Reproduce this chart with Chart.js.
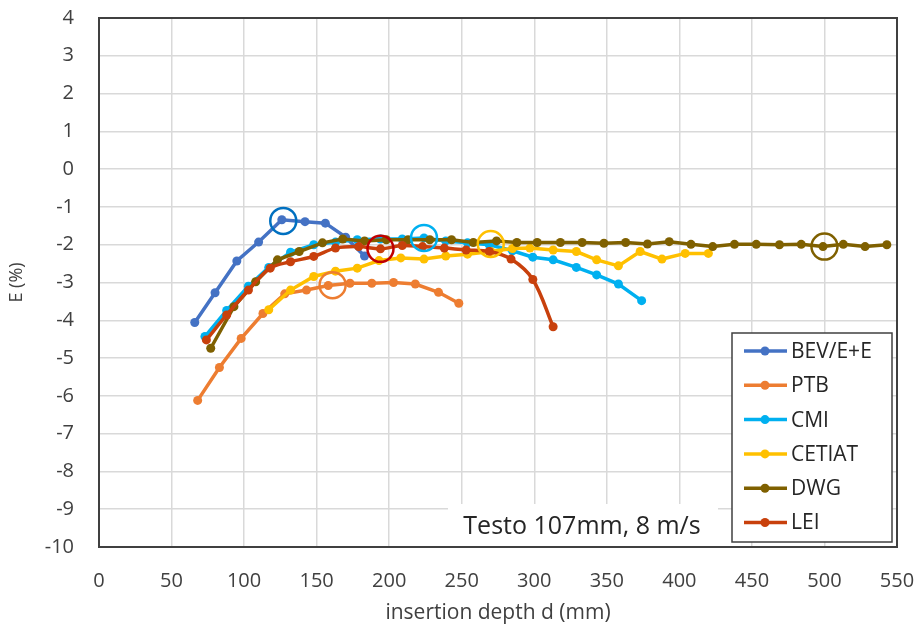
<!DOCTYPE html>
<html>
<head>
<meta charset="utf-8">
<script src="https://cdn.jsdelivr.net/npm/chart.js@4.4.1/dist/chart.umd.min.js"></script>
<style>
  html, body { margin: 0; padding: 0; background: #fff; }
  #wrap { width: 919px; height: 632px; }
</style>
</head>
<body>
<div id="wrap"><canvas id="chart" width="919" height="632"></canvas></div>
<script>
// values
const seriesNames = ['BEV/E+E', 'PTB', 'CMI', 'CETIAT', 'DWG', 'LEI'];
const seriesColors = ['#4472C4', '#ED7D31', '#00B0F0', '#FFC000', '#7F6000', '#C8400C'];

const bevD = [66, 80, 95, 110, 126, 142, 156, 170, 183];
const bevE = [-4.06, -3.27, -2.43, -1.93, -1.34, -1.39, -1.43, -1.8, -2.3];

const ptbD = [68, 83, 98, 113, 128, 143, 158, 173, 188, 203, 218, 234, 248];
const ptbE = [-6.12, -5.25, -4.48, -3.82, -3.3, -3.2, -3.08, -3.02, -3.02, -3.0, -3.04, -3.26, -3.55];

const cmiD = [73, 88, 103, 117, 132, 148, 163, 178, 194, 209, 224, 239, 254, 269, 285, 299, 313, 329, 343, 358, 374];
const cmiE = [-4.43, -3.74, -3.1, -2.6, -2.2, -2.0, -1.93, -1.87, -1.85, -1.85, -1.82, -1.9, -1.95, -2.0, -2.16, -2.33, -2.4, -2.6, -2.8, -3.04, -3.48];

const cetD = [117, 132, 148, 163, 178, 193, 208, 224, 239, 254, 270, 285, 297, 313, 329, 343, 358, 373, 388, 404, 420];
const cetE = [-3.72, -3.2, -2.84, -2.7, -2.62, -2.42, -2.35, -2.38, -2.3, -2.25, -2.18, -2.1, -2.09, -2.14, -2.18, -2.4, -2.56, -2.18, -2.38, -2.23, -2.23];

const dwgD = [77, 93, 108, 123, 138, 154, 168, 183, 198, 213, 228, 243, 258, 274, 288, 302, 318, 333, 348, 363, 378, 393, 408, 423, 438, 453, 469, 484, 499, 513, 528, 543];
const dwgE = [-4.74, -3.64, -2.98, -2.4, -2.18, -1.95, -1.85, -1.9, -1.87, -1.87, -1.87, -1.87, -1.94, -1.9, -1.94, -1.94, -1.94, -1.94, -1.96, -1.94, -1.98, -1.92, -1.99, -2.05, -1.99, -1.99, -2.0, -1.99, -2.05, -1.99, -2.05, -2.0];

const leiD = [74, 88, 103, 118, 132, 148, 163, 179, 194, 209, 223, 238, 253, 269, 284, 299, 313];
const leiE = [-4.52, -3.86, -3.2, -2.62, -2.45, -2.31, -2.09, -2.05, -2.11, -2.02, -2.05, -2.09, -2.14, -2.18, -2.38, -2.92, -4.17];

// highlighted points (open circles)
const circleD = [127, 161, 224, 270, 500, 194];
const circleE = [-1.37, -3.07, -1.82, -1.98, -2.05, -2.11];
const circleColors = ['#0070C0', '#ED7D31', '#00B0F0', '#FFC000', '#7F6000', '#C00000'];

const noteText = 'Testo 107mm, 8 m/s';

const allD = [bevD, ptbD, cmiD, cetD, dwgD, leiD];
const allE = [bevE, ptbE, cmiE, cetE, dwgE, leiE];

const font = "'Open Sans', sans-serif";

let datasets = seriesNames.map((name, i) => ({
  label: name,
  data: allD[i].map((d, j) => ({x: d, y: allE[i][j]})),
  borderColor: seriesColors[i],
  backgroundColor: seriesColors[i],
  borderWidth: 3.5,
  pointRadius: 4.5,
  pointBorderWidth: 0,
  tension: name == 'LEI' ? 0.35 : 0,
  order: 6 - i
}));

circleD.forEach((d, i) => {
  datasets.push({
    label: 'circle' + i,
    data: [{x: d, y: circleE[i]}],
    showLine: false,
    borderColor: circleColors[i],
    backgroundColor: 'rgba(0,0,0,0)',
    pointRadius: 13,
    pointBorderWidth: 2.5,
    order: 0
  });
});

const extras = {
  id: 'extras',
  afterDatasetsDraw(chart) {
    const ctx = chart.ctx;
    const a = chart.chartArea;
    ctx.save();

    // note box
    ctx.fillStyle = '#fff';
    ctx.fillRect(448, 504, 270, 42);
    ctx.fillStyle = '#262626';
    ctx.font = '25px ' + font;
    ctx.textAlign = 'center';
    ctx.textBaseline = 'middle';
    ctx.fillText(noteText, 582, 527);

    // legend
    ctx.fillStyle = '#fff';
    ctx.fillRect(732, 333, 160, 209);
    ctx.strokeStyle = '#404040';
    ctx.lineWidth = 1.5;
    ctx.strokeRect(732, 333, 160, 209);
    ctx.font = '21px ' + font;
    ctx.textAlign = 'left';
    seriesNames.forEach((name, i) => {
      const y = 351 + i * 34.3;
      ctx.strokeStyle = seriesColors[i];
      ctx.lineWidth = 3.5;
      ctx.beginPath();
      ctx.moveTo(744, y);
      ctx.lineTo(787, y);
      ctx.stroke();
      ctx.fillStyle = seriesColors[i];
      ctx.beginPath();
      ctx.arc(765, y, 4.5, 0, Math.PI * 2);
      ctx.fill();
      ctx.fillStyle = '#262626';
      ctx.fillText(name, 791, y + 1);
    });

    // plot border
    ctx.strokeStyle = '#404040';
    ctx.lineWidth = 2;
    ctx.strokeRect(a.left, a.top, a.right - a.left, a.bottom - a.top);
    ctx.restore();
  }
};

new Chart(document.getElementById('chart'), {
  type: 'line',
  data: { datasets: datasets },
  plugins: [extras],
  options: {
    responsive: false,
    animation: false,
    devicePixelRatio: 1,
    layout: { padding: { left: 0, top: 18, right: 22, bottom: 0 } },
    plugins: {
      legend: { display: false },
      tooltip: { enabled: false }
    },
    scales: {
      x: {
        type: 'linear',
        min: 0,
        max: 550,
        afterFit: s => { s.height = 85; s.paddingLeft = 0; s.paddingRight = 0; },
        grid: { color: '#D9D9D9', lineWidth: 1.5, drawTicks: false },
        border: { display: false },
        ticks: { stepSize: 50, padding: 22, color: '#404040', font: { family: font, size: 20 } },
        title: { display: true, text: 'insertion depth d (mm)', color: '#404040', font: { family: font, size: 21 }, padding: { top: 0, bottom: 6 } }
      },
      y: {
        min: -10,
        max: 4,
        afterFit: s => { s.width = 99; s.paddingTop = 0; s.paddingBottom = 0; },
        grid: { color: '#D9D9D9', lineWidth: 1.5, drawTicks: false },
        border: { display: false },
        ticks: { stepSize: 1, padding: 25, color: '#404040', font: { family: font, size: 20 } },
        title: { display: true, text: 'E (%)', color: '#404040', font: { family: font, size: 18 }, padding: { top: 6, bottom: 0 } }
      }
    }
  }
});
</script>
</body>
</html>
